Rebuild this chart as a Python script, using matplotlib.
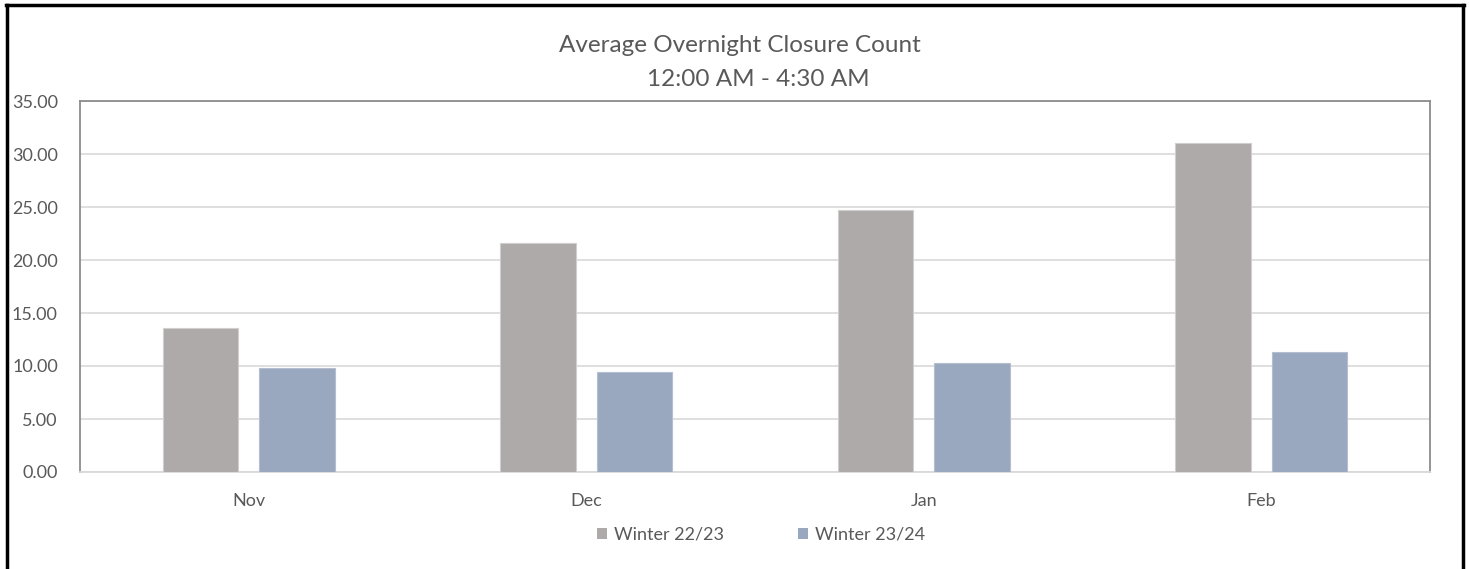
import matplotlib
matplotlib.use("Agg")
import matplotlib.pyplot as plt
from matplotlib.lines import Line2D
from matplotlib.patches import Patch
import numpy as np

months = ["Nov", "Dec", "Jan", "Feb"]
winter_22_23 = [13.6, 21.6, 24.7, 31.0]
winter_23_24 = [9.85, 9.45, 10.3, 11.35]
series_names = ["Winter 22/23", "Winter 23/24"]
yticks = [0, 5, 10, 15, 20, 25, 30, 35]

plt.rcParams['font.family'] = ['Lato', 'DejaVu Sans']

C1 = "#AEAAAA"
C2 = "#9AA8BF"
TXT = "#595959"

fig = plt.figure(figsize=(14.69, 5.69), dpi=100)
ax = fig.add_axes([80/1469, 1-472/569, 1350/1469, 371/569])

x = np.arange(len(months))
w = 0.225
off = 0.143
ax.bar(x - off, winter_22_23, w, color=C1, edgecolor="#D0CECE", linewidth=0.8, zorder=3, label=series_names[0])
ax.bar(x + off, winter_23_24, w, color=C2, edgecolor="#B4BED0", linewidth=0.8, zorder=3, label=series_names[1])

ax.set_xlim(-0.5, len(months) - 0.5)
ax.set_ylim(0, 35)
ax.set_yticks(yticks)
ax.set_yticklabels([f"{v:.2f}" for v in yticks])
ax.set_xticks(x)
ax.set_xticklabels(months)
ax.tick_params(axis='both', length=0, colors=TXT, labelsize=13)
ax.tick_params(axis='y', pad=16)
ax.tick_params(axis='x', pad=15)
ax.yaxis.grid(True, color="#D9D9D9", linewidth=1.2, zorder=0)
ax.set_axisbelow(True)
for s in ["left", "top", "right"]:
    ax.spines[s].set_color("#8C8C8C")
    ax.spines[s].set_linewidth(1.3)
ax.spines["bottom"].set_color("#D9D9D9")
ax.spines["bottom"].set_linewidth(1.3)

fig.text(740/1469, 1-46/569, "Average Overnight Closure Count", ha="center", va="center",
         fontsize=17.5, color=TXT)
fig.text(758/1469, 1-80/569, "12:00 AM - 4:30 AM", ha="center", va="center",
         fontsize=17.5, color=TXT)

handles = [Patch(facecolor=C1, edgecolor="none"), Patch(facecolor=C2, edgecolor="none")]
leg = fig.legend(handles, series_names, loc="center", bbox_to_anchor=(761/1469, 1-535/569),
                 ncol=2, frameon=False, fontsize=13, handlelength=0.55, handleheight=0.55,
                 handletextpad=0.4, columnspacing=4.1)
for t in leg.get_texts():
    t.set_color(TXT)

# outer border
fig.add_artist(Line2D([7/1469, 7/1469], [0, 1-5/569], color="black", linewidth=2.5, transform=fig.transFigure))
fig.add_artist(Line2D([1463/1469, 1463/1469], [0, 1-5/569], color="black", linewidth=2.5, transform=fig.transFigure))
fig.add_artist(Line2D([6/1469, 1464/1469], [1-5/569, 1-5/569], color="black", linewidth=2.5, transform=fig.transFigure))

fig.savefig("out.png", dpi=100, facecolor="white")
